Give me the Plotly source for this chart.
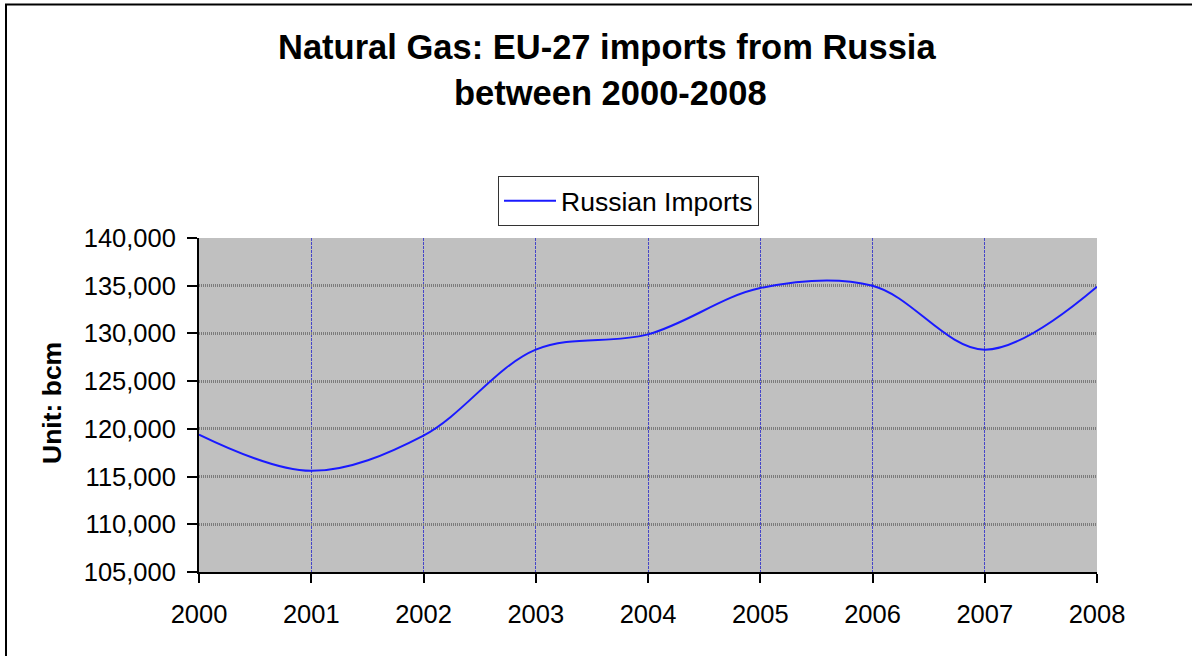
import plotly.graph_objects as go

years = [2000, 2001, 2002, 2003, 2004, 2005, 2006, 2007, 2008]
russian_imports = [119400, 115600, 119300, 128300, 129900, 134750, 135000, 128300, 134900]
y_ticks = [105000, 110000, 115000, 120000, 125000, 130000, 135000, 140000]
title_lines = ["Natural Gas: EU-27 imports from Russia", "between 2000-2008"]
series_name = "Russian Imports"
y_title = "Unit: bcm"

W, H = 1192, 656
L, R, T, B = 199, 1097, 238, 572
pw, ph = R - L, B - T

def px(x):
    return (x - L) / pw

def py(y):
    return (B - y) / ph

FONT = "Liberation Sans, Arial, sans-serif"

fig = go.Figure()
fig.add_trace(go.Scatter(
    x=years, y=russian_imports, mode="lines", name=series_name,
    line=dict(color="#1a1aff", width=2, shape="spline", smoothing=1.0),
))

fig.update_layout(
    width=W, height=H,
    margin=dict(l=L, r=W - R, t=T, b=H - B, autoexpand=False),
    paper_bgcolor="white",
    plot_bgcolor="#c0c0c0",
    font=dict(family=FONT, size=25.5, color="black"),
    showlegend=True,
    legend=dict(
        x=px(498), y=py(176), xanchor="left", yanchor="top",
        bordercolor="#333333", borderwidth=1, bgcolor="white",
        font=dict(size=26.5), itemwidth=52,
    ),
)

fig.update_xaxes(
    range=[2000, 2008], tickmode="array", tickvals=years,
    ticktext=[str(y) for y in years],
    showgrid=True, gridcolor="#4646c8", gridwidth=1, griddash="3px,1px",
    showline=True, linecolor="black", linewidth=2,
    ticks="outside", ticklen=9, tickwidth=2, tickcolor="black",
    ticklabelstandoff=9, zeroline=False,
    tickfont=dict(size=25.5),
)
fig.update_yaxes(
    range=[105000, 140000], tickmode="array", tickvals=y_ticks,
    ticktext=[f"{v:,}" for v in y_ticks],
    showgrid=True, gridcolor="#7c7c7c", gridwidth=2.5, griddash="1px,1px",
    showline=True, linecolor="black", linewidth=2,
    ticks="outside", ticklen=10, tickwidth=2, tickcolor="black",
    ticklabelstandoff=6, zeroline=False,
    tickfont=dict(size=25.5),
)

annotations = [
    dict(text=f"<b>{title_lines[0]}</b>", x=px(607), y=py(47), xref="paper", yref="paper",
         xanchor="center", yanchor="middle", showarrow=False, font=dict(size=34.5, family=FONT)),
    dict(text=f"<b>{title_lines[1]}</b>", x=px(610), y=py(93), xref="paper", yref="paper",
         xanchor="center", yanchor="middle", showarrow=False, font=dict(size=34.5, family=FONT)),
    dict(text=f"<b>{y_title}</b>", x=px(52), y=py(403), xref="paper", yref="paper",
         xanchor="center", yanchor="middle", textangle=-90, showarrow=False,
         font=dict(size=26.5, family=FONT)),
]
fig.update_layout(annotations=annotations)

fig.add_shape(type="rect", xref="paper", yref="paper",
              x0=px(6), x1=px(1230), y0=py(700), y1=py(4.5),
              line=dict(color="black", width=2), fillcolor="rgba(0,0,0,0)", layer="above")

fig.write_html("out.html", config={"displayModeBar": False},
               post_script="document.body.style.margin='0px';document.body.style.overflow='hidden';")
